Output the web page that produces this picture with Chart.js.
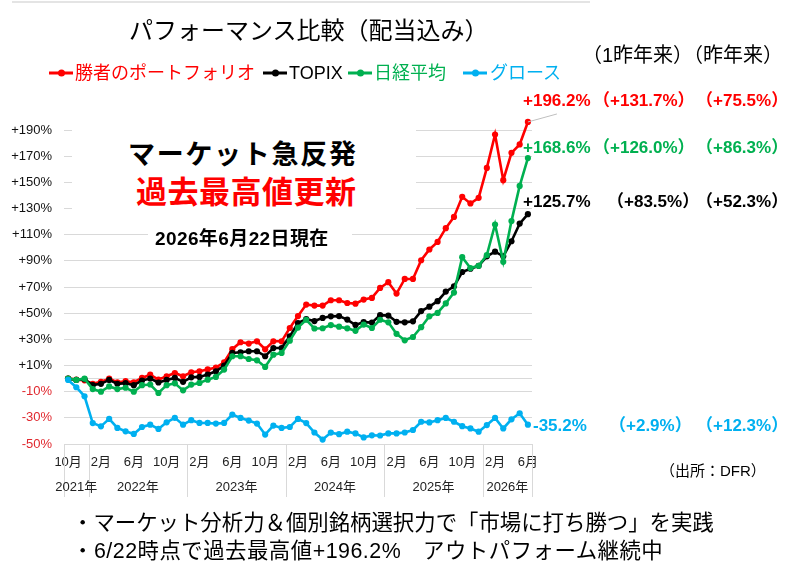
<!DOCTYPE html>
<html><head><meta charset="utf-8">
<script src="https://cdn.jsdelivr.net/npm/chart.js@4"></script>
<style>
html,body{margin:0;padding:0;background:#fff;}
#wrap{position:relative;width:793px;height:585px;overflow:hidden;font-family:"Liberation Sans","Noto Sans CJK JP",sans-serif;}
canvas{position:absolute;left:0;top:0;}
.t{position:absolute;line-height:1;white-space:nowrap;transform:translateY(-50%);}
.b{font-weight:bold;}
.mk{position:absolute;height:3px;transform:translateY(-50%);}
.mk i{position:absolute;left:50%;top:50%;width:7px;height:7px;border-radius:50%;margin:-3.5px 0 0 -3.5px;background:inherit;}
</style></head>
<body><div id="wrap">
<canvas id="c" width="793" height="585"></canvas>
<div style="position:absolute;left:12px;top:1px;width:578px;height:2px;background:#e4e4e4;"></div>
<div class="t" style="left:129px;top:31px;font-size:24px;color:#000;">パフォーマンス比較（配当込み）</div>
<div class="t" style="left:582px;top:55px;font-size:20px;color:#000;">（1昨年来）（昨年来）</div>

<div class="mk" style="left:49px;top:73px;width:24px;background:#ff0000;"><i></i></div>
<div class="t" style="left:75px;top:73px;font-size:18px;color:#ff0000;">勝者のポートフォリオ</div>
<div class="mk" style="left:263px;top:73px;width:24px;background:#000;"><i></i></div>
<div class="t" style="left:289px;top:73px;font-size:18px;color:#000;">TOPIX</div>
<div class="mk" style="left:348px;top:73px;width:24px;background:#00b050;"><i></i></div>
<div class="t" style="left:374px;top:73px;font-size:18px;color:#00b050;">日経平均</div>
<div class="mk" style="left:463px;top:73px;width:24px;background:#00b0f0;"><i></i></div>
<div class="t" style="left:490px;top:73px;font-size:18px;color:#00b0f0;">グロース</div>

<div class="t b" style="left:523px;top:100px;font-size:17px;color:#ff0000;">+196.2%</div>
<div class="t b" style="left:593px;top:100px;font-size:17px;color:#ff0000;">（+131.7%）</div>
<div class="t b" style="left:696px;top:100px;font-size:17px;color:#ff0000;">（+75.5%）</div>
<div class="t b" style="left:523px;top:147px;font-size:17px;color:#00b050;">+168.6%</div>
<div class="t b" style="left:593px;top:147px;font-size:17px;color:#00b050;">（+126.0%）</div>
<div class="t b" style="left:696px;top:147px;font-size:17px;color:#00b050;">（+86.3%）</div>
<div class="t b" style="left:523px;top:201px;font-size:17px;color:#000;">+125.7%</div>
<div class="t b" style="left:607px;top:201px;font-size:17px;color:#000;">（+83.5%）</div>
<div class="t b" style="left:696px;top:201px;font-size:17px;color:#000;">（+52.3%）</div>
<div class="t b" style="left:533px;top:425px;font-size:17px;color:#00b0f0;">-35.2%</div>
<div class="t b" style="left:609px;top:425px;font-size:17px;color:#00b0f0;">（+2.9%）</div>
<div class="t b" style="left:696px;top:425px;font-size:17px;color:#00b0f0;">（+12.3%）</div>

<div style="position:absolute;left:72px;top:118px;width:344px;height:104px;background:#fff;"></div>
<div style="position:absolute;left:148px;top:224px;width:204px;height:24px;background:#fff;"></div>
<div class="t b" style="left:128px;top:155px;font-size:27px;letter-spacing:1.7px;color:#000;">マーケット急反発</div>
<div class="t b" style="left:136px;top:192px;font-size:31px;letter-spacing:0.5px;color:#ff0000;">過去最高値更新</div>
<div class="t b" style="left:155px;top:238px;font-size:19px;letter-spacing:0.4px;color:#000;">2026年6月22日現在</div>

<div class="t" style="left:660px;top:470px;font-size:15px;color:#000;">（出所：DFR）</div>
<div class="t" style="left:72px;top:524px;font-size:21.4px;color:#000;">・マーケット分析力＆個別銘柄選択力で「市場に打ち勝つ」を実践</div>
<div class="t" style="left:72px;top:552px;font-size:21.4px;letter-spacing:0.5px;color:#000;">・6/22時点で過去最高値+196.2%　アウトパフォーム継続中</div>
</div>
<script>
const monthLabels = [
 '10月','11月','12月',
 '1月','2月','3月','4月','5月','6月','7月','8月','9月','10月','11月','12月',
 '1月','2月','3月','4月','5月','6月','7月','8月','9月','10月','11月','12月',
 '1月','2月','3月','4月','5月','6月','7月','8月','9月','10月','11月','12月',
 '1月','2月','3月','4月','5月','6月','7月','8月','9月','10月','11月','12月',
 '1月','2月','3月','4月','5月','6月'
];
const yearLabels = ['2021年','2022年','2023年','2024年','2025年','2026年'];
const yearStartIndex = [0,3,15,27,39,51];
const yTickValues = [-50,-30,-10,0,10,30,50,70,90,110,130,150,170,190];

const portfolio = [0,-0.8,-1.3,-4,-2.5,0,-2.8,-2,-2.8,0.5,3,-0.8,1.8,4.3,1.8,
 4.8,5.6,7,8.5,12.5,22.5,27.8,26.8,28.5,22.4,28.5,28.5,
 38.7,47.8,56.6,55.8,55.8,59.9,59.9,57.8,57.3,60.4,61.7,69.3,
 73.7,65,76.2,76.2,90.5,98.7,104.5,115,123.6,139,133.9,138.2,
 161.1,186.6,151.7,172.6,179,196.2];
const topix = [0,-1,-0.5,-5,-4,-1,-4,-3.5,-5,-1.5,0,-3,-1,0.5,-2.5,
 1,1.3,3.1,5.6,9.9,19.6,20.1,20.9,20.9,17.1,23.4,23.4,
 32.3,42.5,45.5,44,46.4,47.6,47.8,45.1,41,43.2,42.8,48.5,
 48.2,43.4,43,43.8,51.6,55,59.2,66.5,70.6,81.5,84,86.2,
 93.5,97,93.5,105,118.5,125.7];
const nikkei = [0,-1,0,-8,-10,-6,-8,-7,-10,-5,-4.5,-11,-5,-3.6,-9,
 -4.6,-3.3,-0.8,1.3,6.9,17.1,17.1,15,14,8.9,18.3,19.6,
 29,39,45,38.3,38.5,40.9,39.7,38.4,36.5,41.3,38.7,45,
 43,34.2,29.3,31.8,39.3,47.6,50.2,57.5,65.8,92.8,84.5,86.2,
 94.5,117.8,89.3,120.4,147.3,168.6];
const growth = [-1,-6.6,-13.5,-34,-36.5,-30.8,-37.7,-40.3,-42.3,-37,-35.2,-38.5,-33.4,-30,-35.2,
 -31.8,-33.9,-33.9,-34.4,-33.9,-27.5,-30.1,-32.1,-34.4,-42.8,-35.9,-37.7,
 -37,-30.8,-34,-41.2,-46.6,-41.3,-42.5,-40.6,-41.9,-45,-43.4,-43.5,
 -41.9,-41.9,-41.2,-39.3,-33,-33.5,-31.8,-30.1,-33,-36.4,-38.1,-40.6,
 -35.5,-30.1,-38.1,-31.1,-26.5,-35.2];

const FONT = '"Liberation Sans","Noto Sans CJK JP",sans-serif';
const GRID = '#d9d9d9';

const axisExtras = {
 id:'axisExtras',
 afterDraw(chart){
  const c = chart.ctx, x = chart.scales.x, y = chart.scales.y, a = chart.chartArea;
  const half = (x.getPixelForValue(1) - x.getPixelForValue(0)) / 2;
  const bounds = yearStartIndex.map(i => x.getPixelForValue(i) - half);
  bounds.push(x.getPixelForValue(monthLabels.length - 1) + half);
  c.save();
  c.strokeStyle = GRID; c.lineWidth = 1;
  bounds.forEach(px => {
   const p = Math.round(px) + 0.5;
   c.beginPath(); c.moveTo(p, a.bottom); c.lineTo(p, a.bottom + 53); c.stroke();
  });
  c.fillStyle = '#222'; c.font = '13px ' + FONT; c.textAlign = 'center'; c.textBaseline = 'middle';
  yearLabels.forEach((t, k) => {
   c.fillText(t, (bounds[k] + bounds[k + 1]) / 2, a.bottom + 43);
  });
  const last = monthLabels.length - 1;
  const px = x.getPixelForValue(last), py = y.getPixelForValue(portfolio[last]);
  c.strokeStyle = '#bfbfbf';
  c.beginPath(); c.moveTo(px, py); c.lineTo(px + 29, py - 8); c.stroke();
  c.restore();
 }
};

function ds(label, data, color, order){
 return {label, data, borderColor:color, backgroundColor:color, pointBackgroundColor:color,
  pointBorderColor:color, borderWidth:2.6, pointRadius:3.1, pointBorderWidth:0, tension:0, order};
}

new Chart(document.getElementById('c'), {
 type:'line',
 data:{labels:monthLabels, datasets:[
  ds('勝者のポートフォリオ', portfolio, '#ff0000', 4),
  ds('TOPIX', topix, '#000000', 3),
  ds('日経平均', nikkei, '#00b050', 2),
  ds('グロース', growth, '#00b0f0', 1)
 ]},
 options:{
  responsive:false, animation:false, devicePixelRatio:1,
  layout:{padding:{left:0, top:117, right:261, bottom:111}},
  plugins:{legend:{display:false}, tooltip:{enabled:false}},
  scales:{
   x:{
    offset:true,
    grid:{display:false}, border:{display:false},
    ticks:{autoSkip:false, maxRotation:0, minRotation:0, padding:3, color:'#222',
     font:{size:13, family:FONT},
     callback:(v, i) => (i % 4 === 0 ? monthLabels[i] : '')},
    afterFit:(s) => { s.height = 30; }
   },
   y:{
    min:-50, max:200,
    afterBuildTicks:(s) => { s.ticks = yTickValues.map(v => ({value:v})); },
    grid:{color:GRID, drawTicks:false, lineWidth:1},
    border:{display:false},
    ticks:{padding:12, font:{size:13, family:FONT},
     color:(ctx) => (ctx.tick && ctx.tick.value < 0 ? '#e0282e' : '#111'),
     callback:(v) => (v === 0 ? '' : (v > 0 ? '+' : '') + v + '%')},
    afterFit:(s) => { s.width = 64; }
   }
  }
 },
 plugins:[axisExtras]
});
</script>
</body></html>
